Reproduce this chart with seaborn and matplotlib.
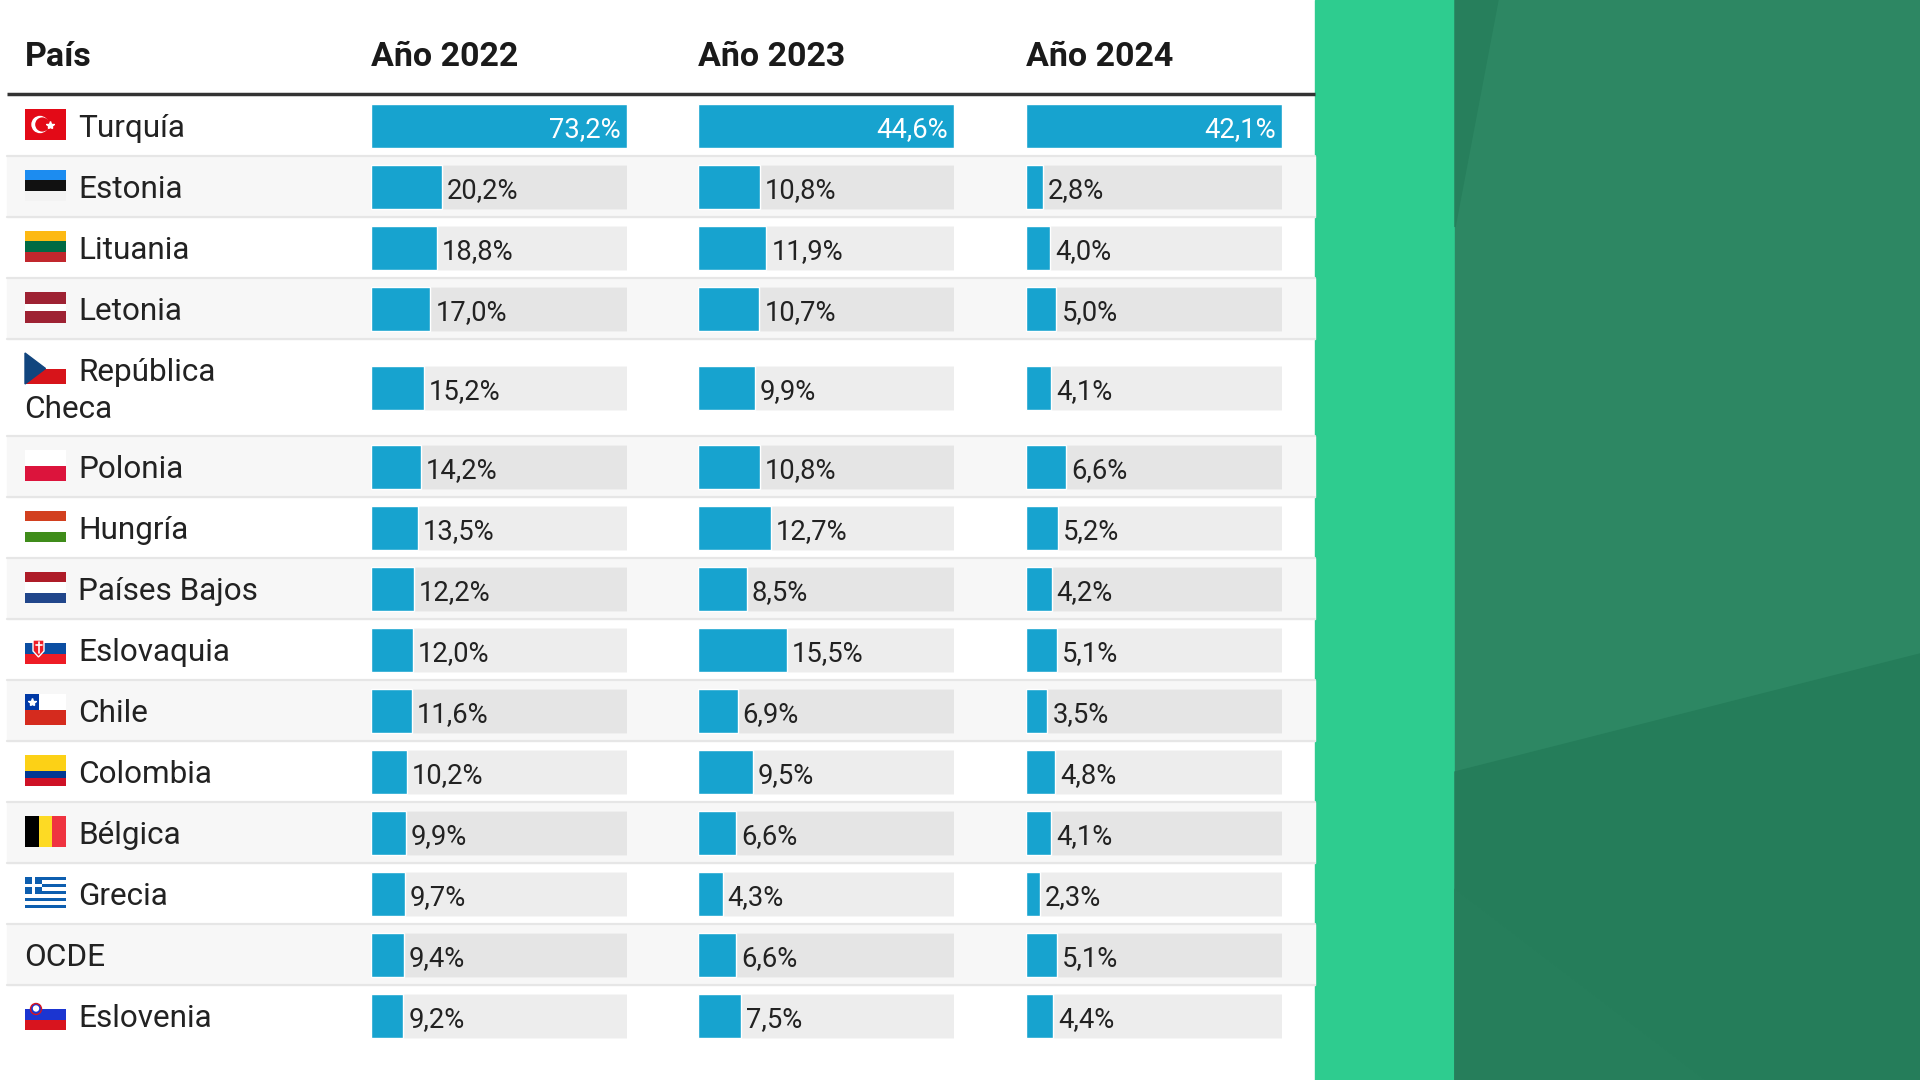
import matplotlib
matplotlib.use("Agg")
import matplotlib.pyplot as plt
import numpy as np
import seaborn as sns
from matplotlib.patches import Rectangle, Polygon, Circle

# datos
paises = [
    "Turquía", "Estonia", "Lituania", "Letonia", "República Checa",
    "Polonia", "Hungría", "Países Bajos", "Eslovaquia", "Chile",
    "Colombia", "Bélgica", "Grecia", "OCDE", "Eslovenia",
]
banderas = ["tr", "ee", "lt", "lv", "cz", "pl", "hu", "nl", "sk", "cl",
            "co", "be", "gr", None, "si"]
columnas = ["País", "Año 2022", "Año 2023", "Año 2024"]
v2022 = [73.2, 20.2, 18.8, 17.0, 15.2, 14.2, 13.5, 12.2, 12.0, 11.6, 10.2, 9.9, 9.7, 9.4, 9.2]
v2023 = [44.6, 10.8, 11.9, 10.7, 9.9, 10.8, 12.7, 8.5, 15.5, 6.9, 9.5, 6.6, 4.3, 6.6, 7.5]
v2024 = [42.1, 2.8, 4.0, 5.0, 4.1, 6.6, 5.2, 4.2, 5.1, 3.5, 4.8, 4.1, 2.3, 5.1, 4.4]

AZUL = "#17a3cf"
TEXTO = "#222222"

sns.set_style("white")
plt.rcParams["font.family"] = ["Roboto", "DejaVu Sans"]

W, H = 1920, 1080
fig = plt.figure(figsize=(19.2, 10.8), dpi=100)
ax = fig.add_axes([0, 0, 1, 1])
ax.set_xlim(0, W)
ax.set_ylim(H, 0)
ax.axis("off")

# fondo
ax.add_patch(Rectangle((0, 0), 1315, H, color="white", zorder=0))
ax.add_patch(Rectangle((1315, 0), 140, H, color="#2ecc8f", zorder=0))
ax.add_patch(Rectangle((1455, 0), 465, H, color="#2d8763", zorder=0))
ax.add_patch(Polygon([(1455, 0), (1498, 0), (1455, 227)], color="#277f5c", zorder=0.5))
ax.add_patch(Polygon([(1455, 772), (1920, 654), (1920, 1080), (1455, 1080)],
                     color="#257d5a", zorder=0.5))
ax.add_patch(Polygon([(1455, 889), (1705, 1080), (1455, 1080)], color="#267e5b", zorder=0.6))

# filas
n = len(paises)
row_h = np.full(n, 61.0)
row_h[4] = 97.0
tops = 95 + np.concatenate([[0], np.cumsum(row_h)[:-1]])
centers = tops + row_h / 2
x_left, x_right = 7, 1315

for i in range(n):
    if i % 2 == 1:
        ax.add_patch(Rectangle((x_left, tops[i]), x_right - x_left, row_h[i],
                               color="#f7f7f7", zorder=1))
    if i > 0:
        ax.plot([x_left, x_right], [tops[i], tops[i]], color="#e6e6e6", lw=1.6, zorder=2)

# cabecera
header_x = [25, 371, 698, 1026]
for hx, lab in zip(header_x, columnas):
    ax.text(hx, 66, lab, fontsize=24.5, fontweight="bold", color="#1a1a1a", va="baseline")
ax.plot([x_left, x_right], [94, 94], color="#333333", lw=2.5, solid_capstyle="butt", zorder=3)


def bandera(code, x, yc, w=41, h=31):
    y = yc - h / 2

    def rect(x0, y0, ww, hh, col, z=4):
        ax.add_patch(Rectangle((x0, y0), ww, hh, facecolor=col, edgecolor="none", zorder=z))

    def franjas(cols, fr=None):
        fr = fr or [1 / len(cols)] * len(cols)
        yy = y
        for col, f in zip(cols, fr):
            rect(x, yy, w, h * f, col)
            yy += h * f

    if code == "tr":
        rect(x, y, w, h, "#e30a17")
        ax.add_patch(Circle((x + 15, yc), 8, color="white", zorder=5))
        ax.add_patch(Circle((x + 17.3, yc), 6.4, color="#e30a17", zorder=6))
        ax.plot(x + 25, yc, marker="*", color="white", ms=6, zorder=7)
    elif code == "ee":
        franjas(["#1c8cf0", "#111111", "#f3f3f3"])
    elif code == "lt":
        franjas(["#fdb913", "#006a44", "#c1272d"])
    elif code == "lv":
        franjas(["#9e2233", "#ffffff", "#9e2233"], [0.4, 0.2, 0.4])
    elif code == "cz":
        franjas(["#ffffff", "#d7141a"])
        ax.add_patch(Polygon([(x, y), (x + w / 2, yc), (x, y + h)], color="#11457e", zorder=5))
    elif code == "pl":
        franjas(["#ffffff", "#dc143c"])
    elif code == "hu":
        franjas(["#d2401f", "#ffffff", "#3f8c1a"])
    elif code == "nl":
        franjas(["#ae1c28", "#ffffff", "#21468b"])
    elif code == "sk":
        franjas(["#ffffff", "#0b4ea2", "#ee1c25"])
        ax.add_patch(Polygon([(x + 8, y + 7), (x + 19, y + 7), (x + 19, y + 18),
                              (x + 13.5, y + 24), (x + 8, y + 18)],
                             facecolor="#ee1c25", edgecolor="white", lw=1, zorder=5))
        ax.plot([x + 13.5, x + 13.5], [y + 9, y + 20], color="white", lw=1.2, zorder=6)
        ax.plot([x + 10.5, x + 16.5], [y + 12, y + 12], color="white", lw=1.2, zorder=6)
    elif code == "cl":
        franjas(["#ffffff", "#d52b1e"])
        rect(x, y, 14, h / 2, "#0039a6", z=5)
        ax.plot(x + 7, y + h / 4, marker="*", color="white", ms=6, zorder=6)
    elif code == "co":
        franjas(["#fcd116", "#003893", "#ce1126"], [0.5, 0.25, 0.25])
    elif code == "be":
        for k, col in enumerate(["#000000", "#fdda24", "#ef3340"]):
            rect(x + k * w / 3, y, w / 3, h, col)
    elif code == "gr":
        s = h / 9
        for k in range(9):
            rect(x, y + k * s, w, s, "#0d5eaf" if k % 2 == 0 else "#ffffff")
        rect(x, y, 5 * s, 5 * s, "#0d5eaf", z=5)
        rect(x, y + 2 * s, 5 * s, s, "#ffffff", z=6)
        rect(x + 2 * s, y, s, 5 * s, "#ffffff", z=6)
    elif code == "si":
        franjas(["#ffffff", "#1b35d1", "#d8141e"])
        ax.add_patch(Circle((x + 11, y + 10), 5.5, facecolor="#1b35d1",
                            edgecolor="#d8141e", lw=1, zorder=5))
        ax.add_patch(Circle((x + 11, y + 9.5), 2.5, color="white", zorder=6))


# nombres de los paises y banderas
for i, (nombre, code) in enumerate(zip(paises, banderas)):
    c = centers[i]
    if len(nombre) > 14:
        l1, l2 = nombre.split(" ", 1)
        bandera(code, 25, c - 19)
        ax.text(78, c - 6.5, l1, fontsize=22.7, color=TEXTO, va="baseline", zorder=8)
        ax.text(24, c + 30.5, l2, fontsize=22.7, color=TEXTO, va="baseline", zorder=8)
    else:
        if code is not None:
            bandera(code, 25, c - 1)
            tx = 78
        else:
            tx = 24
        ax.text(tx, c + 11.5, nombre, fontsize=22.7, color=TEXTO, va="baseline", zorder=8)

# barras por año
bar_x0 = [371, 698, 1026]
bar_w = 256
for x0, vals in zip(bar_x0, [v2022, v2023, v2024]):
    bax = fig.add_axes([x0 / W, 0, bar_w / W, 1])
    bax.set_facecolor("none")
    vmax = max(vals)
    sns.barplot(x=[vmax] * n, y=centers, orient="y", native_scale=True, width=44 / 61,
                color="black", alpha=0.07, saturation=1, errorbar=None, ax=bax)
    sns.barplot(x=vals, y=centers, orient="y", native_scale=True, width=44 / 61,
                color=AZUL, saturation=1, errorbar=None, ax=bax)
    bax.set_xlim(0, vmax)
    bax.set_ylim(H, 0)
    bax.axis("off")
    for c, v in zip(centers, vals):
        txt = f"{v:.1f}".replace(".", ",") + "%"
        if v == vmax:
            bax.annotate(txt, (v, c + 11.5), xytext=(-6, 0), textcoords="offset pixels",
                         ha="right", va="baseline", color="white", fontsize=19.7,
                         annotation_clip=False)
        else:
            bax.annotate(txt, (v, c + 11.5), xytext=(5, 0), textcoords="offset pixels",
                         ha="left", va="baseline", color=TEXTO, fontsize=19.7,
                         annotation_clip=False)

fig.savefig("out.png", dpi=100)
